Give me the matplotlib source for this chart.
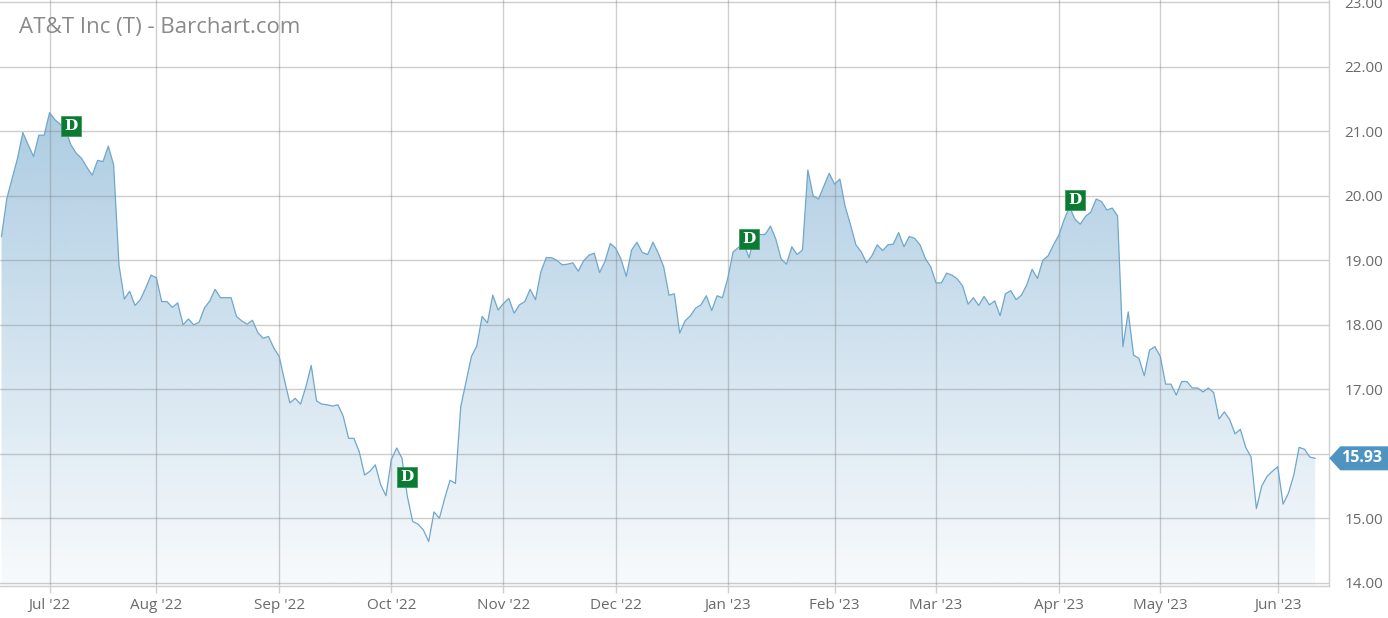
import numpy as np
import pandas as pd
import matplotlib
matplotlib.use("Agg")
import matplotlib.pyplot as plt
from matplotlib.patches import Polygon
from matplotlib.transforms import IdentityTransform, offset_copy

# ---------------- data ----------------
title = "AT&T Inc (T) - Barchart.com"
start_date = "2022-06-17"
end_date = "2023-06-12"
market_holidays = ["2022-06-20", "2022-07-04", "2022-09-05", "2022-11-24",
                   "2022-12-26", "2023-01-02", "2023-01-16", "2023-02-20",
                   "2023-04-07", "2023-05-29"]

close = [
    19.37, 19.96, 20.27, 20.58, 20.98, 20.79, 20.61, 20.94, 20.94, 21.29,
    21.18, 21.11, 21.02, 20.79, 20.66, 20.58, 20.44, 20.32, 20.55, 20.53,
    20.77, 20.48, 18.93, 18.40, 18.52, 18.30, 18.39, 18.57, 18.77, 18.73,
    18.36, 18.36, 18.27, 18.34, 18.00, 18.09, 18.00, 18.04, 18.26, 18.37,
    18.55, 18.42, 18.42, 18.42, 18.13, 18.06, 18.01, 18.07, 17.88, 17.79,
    17.82, 17.64, 17.51, 17.14, 16.79, 16.86, 16.77, 17.04, 17.37, 16.82,
    16.77, 16.76, 16.74, 16.76, 16.58, 16.24, 16.24, 16.03, 15.67, 15.73,
    15.83, 15.52, 15.35, 15.91, 16.09, 15.93, 15.34, 14.95, 14.91, 14.82,
    14.64, 15.10, 15.00, 15.31, 15.59, 15.54, 16.73, 17.12, 17.51, 17.67,
    18.13, 18.03, 18.46, 18.23, 18.33, 18.41, 18.18, 18.31, 18.36, 18.55,
    18.39, 18.82, 19.04, 19.04, 19.00, 18.93, 18.94, 18.96, 18.83, 18.99,
    19.08, 19.11, 18.81, 18.98, 19.26, 19.19, 19.02, 18.75, 19.16, 19.28,
    19.12, 19.09, 19.28, 19.11, 18.90, 18.46, 18.48, 17.87, 18.06, 18.14,
    18.26, 18.31, 18.45, 18.22, 18.45, 18.42, 18.72, 19.13, 19.20, 19.26,
    19.04, 19.40, 19.40, 19.40, 19.53, 19.33, 19.02, 18.94, 19.21, 19.09,
    19.16, 20.40, 20.00, 19.95, 20.15, 20.35, 20.18, 20.26, 19.83, 19.55,
    19.24, 19.13, 18.96, 19.07, 19.24, 19.15, 19.24, 19.25, 19.43, 19.21,
    19.37, 19.34, 19.24, 19.03, 18.90, 18.65, 18.65, 18.80, 18.77, 18.71,
    18.60, 18.32, 18.42, 18.30, 18.44, 18.31, 18.37, 18.14, 18.48, 18.53,
    18.39, 18.46, 18.62, 18.86, 18.72, 19.00, 19.07, 19.24, 19.39, 19.63,
    19.83, 19.64, 19.56, 19.68, 19.75, 19.95, 19.91, 19.78, 19.81, 19.69,
    17.66, 18.20, 17.53, 17.48, 17.21, 17.61, 17.66, 17.51, 17.08, 17.08,
    16.91, 17.12, 17.12, 17.02, 17.02, 16.96, 17.02, 16.95, 16.54, 16.65,
    16.53, 16.31, 16.38, 16.10, 15.95, 15.15, 15.50, 15.65, 15.73, 15.80,
    15.22, 15.39, 15.67, 16.10, 16.07, 15.95, 15.93,
]
dividend_dates = ["2022-07-08", "2022-10-06", "2023-01-09", "2023-04-06"]
y_ticks = [14, 15, 16, 17, 18, 19, 20, 21, 22, 23]
last_price_label = "15.93"

# ---------------- style ----------------
W, H, DPI = 1388, 618, 100
grid_c = "#cfcfcf"
label_c = "#6a6a6a"
line_c = "#6fa7cb"
green = "#0b7a33"
badge_c = "#4f93c0"
FONT = ["Open Sans", "DejaVu Sans"]

dates = pd.bdate_range(start_date, end_date, freq="C", holidays=market_holidays)
n = len(close)
dates = dates[:n]
x = np.arange(n)

# month start ticks (first trading day of each month)
s = pd.Series(np.arange(len(dates)), index=dates)
firsts = s.groupby([dates.year, dates.month]).head(1)
firsts = firsts[firsts.index.day <= 5]
tick_pos = firsts.values
tick_lab = [d.strftime("%b '%y") for d in firsts.index]

div_pos = [dates.get_loc(pd.Timestamp(d)) for d in dividend_dates]

fig = plt.figure(figsize=(W / DPI, H / DPI), dpi=DPI)
fig.patch.set_facecolor("white")

# axes pixel layout
ax_left, ax_right = 0, 1329.3
ax_top, ax_bot = 0, 585.7
ax = fig.add_axes([ax_left / W, (H - ax_bot) / H, (ax_right - ax_left) / W, (ax_bot - ax_top) / H])

px_per_day = 5.34
x0_px = 1.5
xmin = (ax_left - x0_px) / px_per_day
xmax = (ax_right - x0_px) / px_per_day
px_per_unit = 64.5
ytop = 23 + 2.3 / px_per_unit
ybot = ytop - ax_bot / px_per_unit

# gradient fill clipped to area under the line
poly = ax.fill_between(x, close, ybot, facecolor="none", edgecolor="none")
path = poly.get_paths()[0]
grad = np.zeros((256, 2, 4))
base = np.array([70, 140, 190]) / 255.0
alphas = np.linspace(0.54, 0.04, 256)
grad[:, :, 0] = base[0]
grad[:, :, 1] = base[1]
grad[:, :, 2] = base[2]
grad[:, :, 3] = alphas[:, None]
im = ax.imshow(grad, extent=[xmin, xmax, ybot, ytop], origin="upper",
               aspect="auto", interpolation="bilinear", zorder=1)
im.set_clip_path(path, transform=ax.transData)

ax.plot(x, close, color=line_c, lw=0.9, zorder=3)

ax.set_xlim(xmin, xmax)
ax.set_ylim(ybot, ytop)

# grid lines (semi-transparent so they show through fill)
for yv in y_ticks:
    ax.axhline(yv, color="#808080", alpha=0.38, lw=1.0, zorder=2)
for xv in tick_pos:
    ax.axvline(xv, color="#808080", alpha=0.38, lw=1.0, zorder=2)

# spines
for sp in ["top", "left"]:
    ax.spines[sp].set_visible(False)
for sp in ["right", "bottom"]:
    ax.spines[sp].set_color(grid_c)
    ax.spines[sp].set_linewidth(1.0)

# y labels: the one hidden under the last-price badge is not shown
ax.yaxis.tick_right()
ax.set_yticks(y_ticks)
ax.set_yticklabels(["" if abs(v - close[-1]) < 0.3 else f"{v:.2f}" for v in y_ticks])
ax.tick_params(axis="y", length=0, pad=11, labelsize=11, labelcolor=label_c)
ax.set_xticks(tick_pos)
ax.set_xticklabels(tick_lab)
ax.tick_params(axis="x", length=5, width=1, color=grid_c, pad=4,
               labelsize=11, labelcolor=label_c)
for lab in ax.get_xticklabels() + ax.get_yticklabels():
    lab.set_family(FONT)
    lab.set_clip_on(False)

# dividend markers
trans = offset_copy(ax.transData, fig=fig, x=0, y=19, units="dots")
for p in div_pos:
    ax.plot([p], [close[p]], marker="s", ms=14.4, mfc=green, mec="#3c9a5a",
            mew=0.6, transform=trans, zorder=5, clip_on=False)
    ax.text(p, close[p], "D", transform=trans, ha="center", va="center",
            color="white", fontsize=11, fontweight="bold",
            family=["DejaVu Serif"], zorder=6)

# title
fig.text(19 / W, 1 - 28 / H, title, ha="left", va="center", fontsize=16,
         color="#8a8a8a", family=FONT)

# last price badge
xd, yd = ax.transData.transform((xmax, close[-1]))
hh = 12
body_l = xd + 11
pts = [(xd, yd), (body_l, yd + hh), (W, yd + hh), (W, yd - hh), (body_l, yd - hh)]
fig.add_artist(Polygon(pts, closed=True, facecolor=badge_c, edgecolor="none",
                       transform=IdentityTransform(), zorder=10))
fig.text(1362 / W, yd / H, last_price_label, ha="center", va="center",
         color="white", fontsize=11.5, fontweight="bold", family=FONT, zorder=11)

fig.savefig("out.png", dpi=DPI, facecolor="white")
